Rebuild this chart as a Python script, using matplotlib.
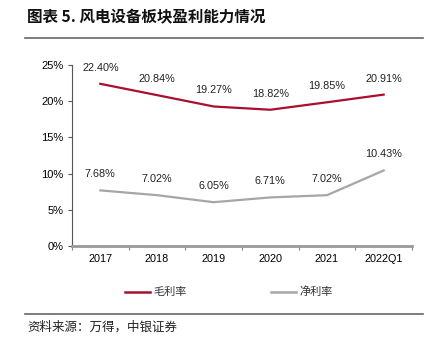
import matplotlib
matplotlib.use("Agg")
import matplotlib.pyplot as plt
from matplotlib.lines import Line2D
import numpy as np

plt.rcParams['font.family'] = ['Liberation Sans', 'Noto Sans CJK SC', 'DejaVu Sans']

categories = ["2017", "2018", "2019", "2020", "2021", "2022Q1"]
gross_margin = [22.40, 20.84, 19.27, 18.82, 19.85, 20.91]
net_margin = [7.68, 7.02, 6.05, 6.71, 7.02, 10.43]
y_ticks = [0, 5, 10, 15, 20, 25]

title = "图表 5. 风电设备板块盈利能力情况"
source = "资料来源：万得，中银证券"
gross_name = "毛利率"
net_name = "净利率"

red = "#A8102E"
gray = "#A6A6A6"

fig = plt.figure(figsize=(4.4, 3.46), dpi=100)
ax = fig.add_axes([72/440, 1-246/346, 340/440, 181/346])

x = list(range(len(categories)))
ax.plot(x, gross_margin, color=red, lw=1.6)
ax.plot(x, net_margin, color=gray, lw=1.6)

for series in (gross_margin, net_margin):
    for xi, v in zip(x, series):
        ax.annotate(f"{v:.2f}%", (xi, v), xytext=(0, 8), textcoords="offset points",
                    ha="center", va="bottom", fontsize=7.8, color="#222222")

ax.set_xlim(-0.5, len(categories) - 0.5)
ax.set_ylim(0, 25)
ax.set_yticks(y_ticks)
ax.set_yticklabels([f"{t}%" for t in y_ticks], fontsize=8)
ax.set_xticks(x)
ax.set_xticklabels(categories, fontsize=7.8)
ax.set_xticks(np.arange(-0.5, len(categories)), minor=True)
ax.tick_params(axis="x", which="major", length=0, pad=6)
ax.tick_params(axis="x", which="minor", length=3, width=0.8, color="#888888")
ax.tick_params(axis="y", length=3, width=0.8, color="#555555", pad=3)
for s in ["top", "right"]:
    ax.spines[s].set_visible(False)
ax.spines["left"].set_color("#555555")
ax.spines["left"].set_linewidth(0.8)
ax.spines["bottom"].set_color("#999999")
ax.spines["bottom"].set_linewidth(2)

# title and rules
fig.text(27/440, 1-17/346, title, fontsize=11.2, fontweight="bold",
         family=["Noto Sans CJK SC"], va="center", ha="left", color="#111111")
fig.add_artist(Line2D([25/440, 423/440], [1-38/346, 1-38/346], color="#666666", lw=1.2))
fig.add_artist(Line2D([25/440, 423/440], [1-314/346, 1-314/346], color="#666666", lw=1.2))
fig.text(27/440, 1-327/346, source, fontsize=9, style="italic",
         family=["Noto Sans CJK SC"], va="center", ha="left", color="#222222")

# legend
ly = 1 - 292/346
fig.add_artist(Line2D([125/440, 150/440], [ly, ly], color=red, lw=1.8))
fig.text(153/440, ly, gross_name, fontsize=8, family=["Noto Sans CJK SC"], va="center", ha="left", color="#333333")
fig.add_artist(Line2D([271/440, 296/440], [ly, ly], color=gray, lw=1.8))
fig.text(299/440, ly, net_name, fontsize=8, family=["Noto Sans CJK SC"], va="center", ha="left", color="#333333")

fig.savefig("out.png", dpi=100)
